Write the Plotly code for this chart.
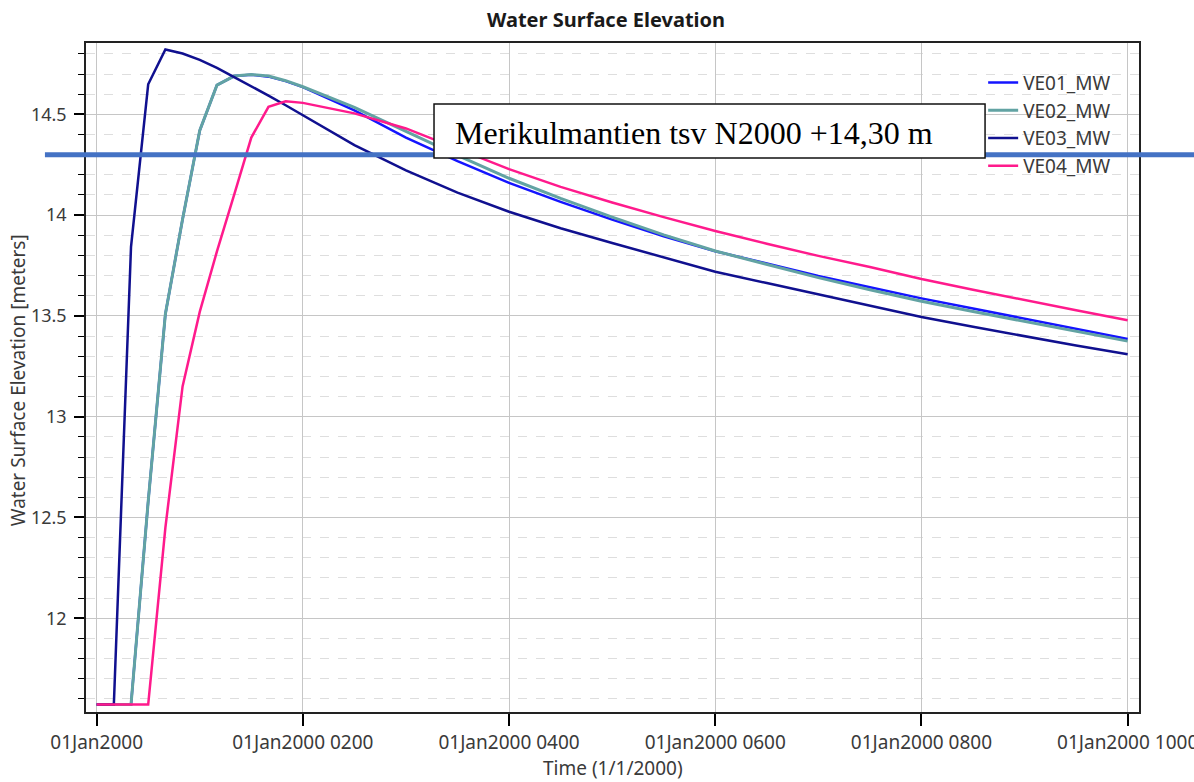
import plotly.graph_objects as go

# ---- data (time in minutes after 01Jan2000 0000) ----
time_min = [0, 10, 20, 30, 40, 50, 60, 70, 80, 90, 100, 110, 120,
            150, 180, 210, 240, 270, 300, 330, 360, 390, 420, 450, 480,
            510, 540, 570, 600]

ve01 = [11.572, 11.572, 11.572, 12.58, 13.51, 13.98, 14.42, 14.645, 14.69,
        14.697, 14.687, 14.665, 14.635,
        14.52, 14.385, 14.268, 14.16, 14.066, 13.978, 13.895, 13.821,
        13.76, 13.698, 13.642, 13.587, 13.537, 13.487, 13.436, 13.385]

ve02 = [11.572, 11.572, 11.572, 12.58, 13.51, 13.98, 14.42, 14.645, 14.69,
        14.698, 14.69, 14.667, 14.637,
        14.535, 14.414, 14.297, 14.183, 14.083, 13.99, 13.902, 13.822,
        13.755, 13.69, 13.63, 13.573, 13.522, 13.472, 13.423, 13.375]

ve03 = [11.572, 11.572, 13.843, 14.649, 14.822, 14.802, 14.77, 14.73, 14.685,
        14.64, 14.593, 14.545, 14.496,
        14.347, 14.222, 14.112, 14.017, 13.935, 13.862, 13.79, 13.719,
        13.663, 13.607, 13.55, 13.495, 13.446, 13.399, 13.353, 13.31]

ve04 = [11.572, 11.572, 11.572, 11.572, 12.45, 13.15, 13.52, 13.82, 14.10,
        14.385, 14.537, 14.565, 14.557,
        14.505, 14.43, 14.33, 14.228, 14.14, 14.063, 13.99, 13.921,
        13.858, 13.798, 13.743, 13.683, 13.63, 13.578, 13.528, 13.479]

series_names = ["VE01_MW", "VE02_MW", "VE03_MW", "VE04_MW"]
series_colors = ["#1414ff", "#62a3a3", "#10108f", "#ff1a8c"]
series_widths = [2.5, 3, 2.5, 2.5]

tick_minutes = [0, 120, 240, 360, 480, 600]
tick_labels = ["01Jan2000", "01Jan2000 0200", "01Jan2000 0400",
               "01Jan2000 0600", "01Jan2000 0800", "01Jan2000 1000"]

REF_LEVEL = 14.30
REF_TEXT = "Merikulmantien tsv N2000 +14,30 m"

FONT = "Noto Sans"
TXT = "#3a3a3a"

fig = go.Figure()
for name, ys, col, w in zip(series_names, [ve01, ve02, ve03, ve04],
                            series_colors, series_widths):
    fig.add_trace(go.Scatter(x=time_min, y=ys, mode="lines", name=name,
                             line=dict(color=col, width=w)))

fig.update_layout(
    width=1194, height=782,
    margin=dict(l=86, r=55, t=43, b=70, autoexpand=False),
    paper_bgcolor="white", plot_bgcolor="white",
    font=dict(family=FONT, color=TXT, size=17),
    showlegend=True,
    legend=dict(x=0.852, y=0.969, xanchor="left", yanchor="top",
                bgcolor="rgba(0,0,0,0)", font=dict(size=19, color=TXT)),
)

fig.update_xaxes(
    range=[-6.2, 606.6], automargin=False, ticklabeloverflow="allow",
    tickmode="array", tickvals=tick_minutes, ticktext=tick_labels,
    ticks="outside", ticklen=12, tickcolor="black", tickwidth=1.5,
    showgrid=True, gridcolor="#c6c6c6", gridwidth=1,
    showline=True, linecolor="#222", linewidth=1.5, mirror=True,
    zeroline=False, tickfont=dict(size=19, color=TXT),
)
fig.update_yaxes(
    range=[11.535, 14.854], automargin=False,
    tickmode="linear", tick0=12, dtick=0.5,
    ticks="outside", ticklen=10, tickcolor="black", tickwidth=1.5,
    showgrid=True, gridcolor="#c6c6c6", gridwidth=1,
    minor=dict(tick0=12, dtick=0.1, ticks="outside", ticklen=6,
               tickcolor="black", tickwidth=1.2, showgrid=True,
               gridcolor="#dedede", griddash="dash", gridwidth=1),
    showline=True, linecolor="#222", linewidth=1.5, mirror=True,
    zeroline=False, tickfont=dict(size=18, color=TXT),
    ticklabelstandoff=4,
)

# reference level line and label box
fig.add_shape(type="line", xref="paper", yref="y",
              x0=-0.039, x1=1.06, y0=REF_LEVEL, y1=REF_LEVEL,
              line=dict(color="#4472C4", width=5), layer="above")
fig.add_shape(type="rect", xref="paper", yref="paper",
              x0=0.3305, x1=0.8538, y0=0.828, y1=0.9088,
              fillcolor="white", line=dict(color="#111", width=1.5),
              layer="above")
fig.add_annotation(text=REF_TEXT, xref="paper", yref="paper",
                   x=0.3485, y=0.8655, xanchor="left", yanchor="middle",
                   showarrow=False,
                   font=dict(family="Liberation Serif, Times New Roman, serif",
                             size=32, color="black"))

# titles
fig.add_annotation(text="<b>Water Surface Elevation</b>", xref="paper",
                   yref="paper", x=0.494, y=1.0344, xanchor="center",
                   yanchor="middle", showarrow=False,
                   font=dict(size=20, color="#1a1a1a"))
fig.add_annotation(text="Time (1/1/2000)", xref="paper", yref="paper",
                   x=0.5005, y=-0.0842, xanchor="center", yanchor="middle",
                   showarrow=False, font=dict(size=19, color=TXT))
fig.add_annotation(text="Water Surface Elevation [meters]", xref="paper",
                   yref="paper", x=-0.0646, y=0.496, xanchor="center",
                   yanchor="middle", textangle=-90, showarrow=False,
                   font=dict(size=19, color=TXT))

fig.write_html("out.html")
